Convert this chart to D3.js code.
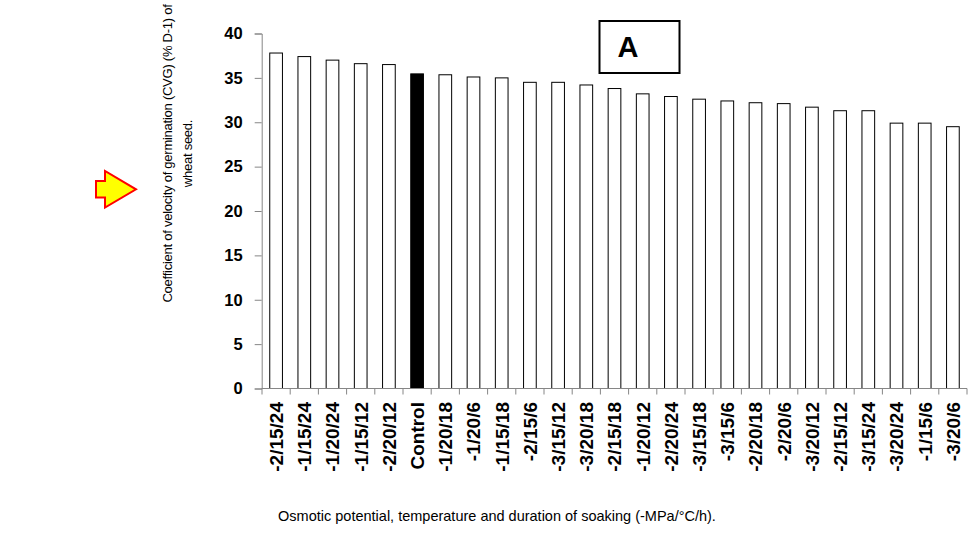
<!DOCTYPE html>
<html>
<head>
<meta charset="utf-8">
<script src="https://cdn.jsdelivr.net/npm/d3@7"></script>
<style>
  html, body { margin: 0; padding: 0; background: #fff; }
  svg { display: block; }
</style>
</head>
<body>
<svg id="chart" width="972" height="535"></svg>
<script>
// Treatments (osmotic potential / temperature / soaking hours), sorted by CVG
const categories = [
  "-2/15/24", "-1/15/24", "-1/20/24", "-1/15/12", "-2/20/12", "Control",
  "-1/20/18", "-1/20/6", "-1/15/18", "-2/15/6", "-3/15/12", "-3/20/18",
  "-2/15/18", "-1/20/12", "-2/20/24", "-3/15/18", "-3/15/6", "-2/20/18",
  "-2/20/6", "-3/20/12", "-2/15/12", "-3/15/24", "-3/20/24", "-1/15/6", "-3/20/6"
];
// Coefficient of velocity of germination (% D-1)
const cvgValues = [
  37.8, 37.4, 37.0, 36.6, 36.5, 35.45,
  35.35, 35.1, 35.0, 34.5, 34.5, 34.2,
  33.8, 33.2, 32.9, 32.6, 32.4, 32.2,
  32.1, 31.7, 31.3, 31.3, 29.9, 29.9, 29.5
];
const yTicks = [0, 5, 10, 15, 20, 25, 30, 35, 40];
const controlLabel = "Control";
const panelLabel = "A";
const yTitleLines = ["Coefficient of velocity of germination (CVG) (% D-1) of", "wheat seed."];
const xTitle = "Osmotic potential, temperature and duration of soaking (-MPa/°C/h).";

const data = categories.map((c, i) => ({ name: c, value: cvgValues[i] }));

const svg = d3.select("#chart");
const font = "'Liberation Sans', Arial, sans-serif";
const axisColor = "#868686";

const x = d3.scaleBand()
  .domain(categories)
  .range([262, 967])
  .paddingInner(0.55)
  .paddingOuter(0.275);

const y = d3.scaleLinear().domain([0, 40]).range([388.5, 33.5]);

// Bars
svg.append("g").selectAll("rect")
  .data(data)
  .join("rect")
  .attr("x", d => x(d.name))
  .attr("y", d => y(d.value))
  .attr("width", x.bandwidth())
  .attr("height", d => y(0) - y(d.value))
  .attr("fill", d => d.name === controlLabel ? "#000" : "#fff")
  .attr("stroke", "#000")
  .attr("stroke-width", 1);

// Y axis
const yAxis = d3.axisLeft(y).tickValues(yTicks).tickSize(7).tickPadding(12);
const gy = svg.append("g")
  .attr("transform", `translate(${x.range()[0] - 0.3},0)`)
  .call(yAxis);
gy.select(".domain").attr("stroke", axisColor);
gy.selectAll(".tick line").attr("stroke", axisColor);
gy.selectAll(".tick text")
  .attr("font-family", font)
  .attr("font-weight", "bold")
  .attr("font-size", 16.5)
  .attr("fill", "#000");

// X axis: baseline, ticks at category boundaries, rotated labels
const step = x.step();
const x0 = x.range()[0];
const boundaries = d3.range(categories.length + 1).map(i => x0 + i * step);
svg.append("line")
  .attr("x1", x0 - 0.3).attr("x2", x.range()[1])
  .attr("y1", y(0)).attr("y2", y(0))
  .attr("stroke", axisColor);
svg.append("g").selectAll("line")
  .data(boundaries)
  .join("line")
  .attr("x1", d => d).attr("x2", d => d)
  .attr("y1", y(0)).attr("y2", y(0) + 6)
  .attr("stroke", axisColor);

svg.append("g").selectAll("text")
  .data(categories)
  .join("text")
  .attr("transform", d => `translate(${x(d) + x.bandwidth() / 2},402) rotate(-90)`)
  .attr("dy", "0.36em")
  .attr("text-anchor", "end")
  .attr("font-family", font)
  .attr("font-weight", "bold")
  .attr("font-size", 19)
  .attr("fill", "#000")
  .text(d => d);

// Axis titles
const yTitle = svg.append("text")
  .attr("transform", "translate(172,153.5) rotate(-90)")
  .attr("text-anchor", "middle")
  .attr("font-family", font)
  .attr("font-size", 13)
  .attr("letter-spacing", -0.25)
  .attr("fill", "#000");
yTitle.selectAll("tspan")
  .data(yTitleLines)
  .join("tspan")
  .attr("x", 0)
  .attr("dy", (d, i) => i === 0 ? 0 : 19.5)
  .text(d => d);

svg.append("text")
  .attr("x", 497)
  .attr("y", 521)
  .attr("text-anchor", "middle")
  .attr("font-family", font)
  .attr("font-size", 14.5)
  .attr("fill", "#000")
  .text(xTitle);

// Panel label box
svg.append("rect")
  .attr("x", 599.5).attr("y", 21)
  .attr("width", 80).attr("height", 52)
  .attr("fill", "#fff")
  .attr("stroke", "#000")
  .attr("stroke-width", 2);
svg.append("text")
  .attr("x", 628).attr("y", 56.5)
  .attr("text-anchor", "middle")
  .attr("font-family", font)
  .attr("font-weight", "bold")
  .attr("font-size", 29)
  .attr("fill", "#000")
  .text(panelLabel);

// Pointer arrow next to the y-axis title
const arrowPts = [[96, 181], [105, 181], [105, 171], [136, 189.3], [105, 207.6], [105, 197.6], [96, 197.6]];
svg.append("path")
  .attr("d", d3.line()(arrowPts) + "Z")
  .attr("fill", "#ffff00")
  .attr("stroke", "#ff0000")
  .attr("stroke-width", 2)
  .attr("stroke-linejoin", "miter");
</script>
</body>
</html>
